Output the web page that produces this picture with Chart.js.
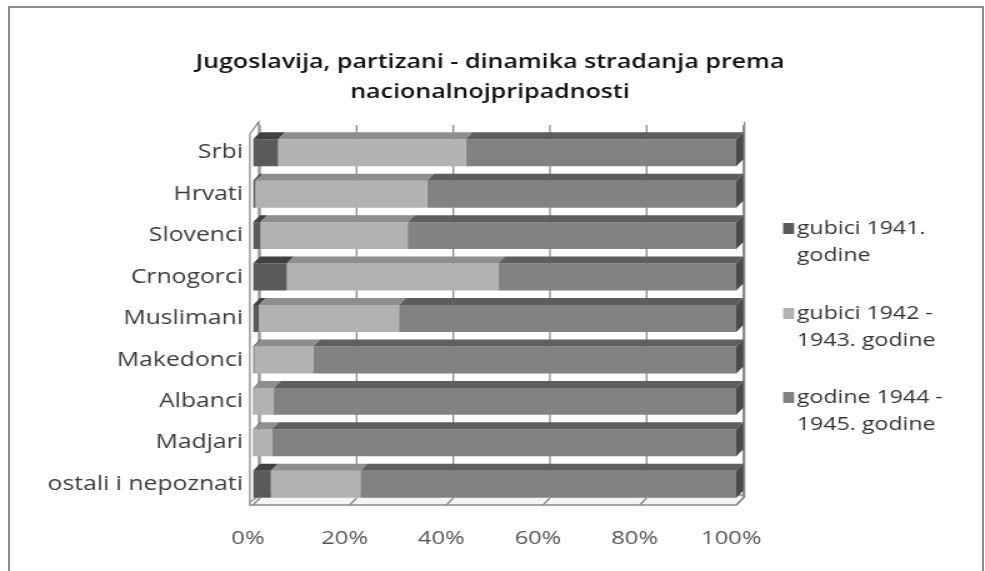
<!DOCTYPE html>
<html>
<head>
<meta charset="utf-8">
<script src="https://cdn.jsdelivr.net/npm/chart.js@4.4.1/dist/chart.umd.min.js"></script>
<style>
  body { margin: 0; background: #fff; }
  #wrap { position: relative; width: 985px; height: 571px; overflow: hidden; }
  #frame { position: absolute; left: 8px; top: 6px; width: 972px; height: 600px; border: 2px solid #8c8c8c; }
  /* the original picture is stretched sideways, so the chart is too */
  #stretch { position: absolute; left: 0; top: 0; width: 788px; height: 571px; transform: scaleX(1.25); transform-origin: 0 0; }
</style>
</head>
<body>
<div id="wrap">
  <div id="frame"></div>
  <div id="stretch"><canvas id="chart" width="788" height="571"></canvas></div>
</div>
<script>
const categories = ["Srbi", "Hrvati", "Slovenci", "Crnogorci", "Muslimani", "Makedonci", "Albanci", "Madjari", "ostali i nepoznati"];
const gubici1941 = [5.2, 0.5, 1.5, 7.0, 1.2, 0.3, 0.2, 0.2, 3.7];
const gubici1942_1943 = [38.8, 35.5, 30.5, 43.7, 29.0, 12.1, 4.1, 3.7, 18.5];
const godine1944_1945 = [56.0, 64.0, 68.0, 49.3, 69.8, 87.6, 95.7, 96.1, 77.8];
const seriesLabels = [["gubici 1941.", "godine"], ["gubici 1942 -", "1943. godine"], ["godine 1944 -", "1945. godine"]];
const titleLines = ["Jugoslavija, partizani - dinamika stradanja prema", "nacionalnojpripadnosti"];
const xTicks = [0, 20, 40, 60, 80, 100];

const FONT = "'Open Sans', sans-serif";
const DX = 5.6, DY = 7;
const topColors = ["#404040", "#8e8e8e", "#5e5e5e"];

// 3D look: back wall grid, left wall, floor, top faces and end caps
const depthPlugin = {
  id: "depth",
  beforeDatasetsDraw(chart) {
    const { ctx, chartArea: a, scales } = chart;
    const x = scales.x;
    ctx.save();
    ctx.strokeStyle = "#8a8a8a";
    ctx.lineWidth = 1.3;
    xTicks.forEach((t) => {
      const px = x.getPixelForValue(t) + DX;
      ctx.beginPath();
      ctx.moveTo(px, a.top - DY);
      ctx.lineTo(px, a.bottom - DY);
      ctx.stroke();
    });
    // left wall
    ctx.beginPath();
    ctx.moveTo(a.left - 2.5, a.bottom);
    ctx.lineTo(a.left - 2.5, a.top + 2);
    ctx.lineTo(a.left + DX - 1, a.top - DY - 3);
    ctx.lineTo(a.left + DX - 1, a.bottom - DY);
    ctx.stroke();
    // floor
    ctx.fillStyle = "#f4f4f4";
    ctx.beginPath();
    ctx.moveTo(a.left - 2.5, a.bottom);
    ctx.lineTo(a.right, a.bottom);
    ctx.lineTo(a.right + DX, a.bottom - DY);
    ctx.lineTo(a.right + DX, a.bottom - DY - 3);
    ctx.lineTo(a.left + DX, a.bottom - DY - 3);
    ctx.lineTo(a.left - 2.5, a.bottom - 3);
    ctx.closePath();
    ctx.fill();
    ctx.stroke();
    xTicks.forEach((t) => {
      const px = x.getPixelForValue(t);
      ctx.beginPath();
      ctx.moveTo(px, a.bottom);
      ctx.lineTo(px + DX, a.bottom - DY);
      ctx.stroke();
    });
    // right wall line
    ctx.beginPath();
    ctx.moveTo(a.right + DX + 1, a.top - DY - 3);
    ctx.lineTo(a.right + DX + 1, a.bottom - DY);
    ctx.stroke();
    ctx.restore();
  },
  afterDatasetsDraw(chart) {
    const { ctx } = chart;
    ctx.save();
    const n = chart.data.datasets.length;
    chart.data.datasets.forEach((ds, di) => {
      const meta = chart.getDatasetMeta(di);
      meta.data.forEach((bar) => {
        const p = bar.getProps(["x", "y", "base", "height"], true);
        const t = p.y - p.height / 2;
        const b = p.y + p.height / 2;
        const x0 = Math.min(p.base, p.x);
        const x1 = Math.max(p.base, p.x);
        ctx.fillStyle = topColors[di];
        ctx.beginPath();
        ctx.moveTo(x0, t);
        ctx.lineTo(x0 + DX, t - DY);
        ctx.lineTo(x1 + DX, t - DY);
        ctx.lineTo(x1, t);
        ctx.closePath();
        ctx.fill();
        if (di === n - 1) {
          ctx.fillStyle = "#4a4a4a";
          ctx.beginPath();
          ctx.moveTo(x1, t);
          ctx.lineTo(x1 + DX, t - DY);
          ctx.lineTo(x1 + DX, b - DY);
          ctx.lineTo(x1, b);
          ctx.closePath();
          ctx.fill();
        }
      });
    });
    ctx.restore();
  },
  afterDraw(chart) {
    const { ctx } = chart;
    ctx.save();
    ctx.textBaseline = "middle";
    // title
    ctx.font = "600 20px " + FONT;
    ctx.fillStyle = "#111";
    ctx.textAlign = "center";
    titleLines.forEach((line, k) => ctx.fillText(line, 392, 62 + k * 30));
    // legend with two-line entries
    ctx.textAlign = "left";
    ctx.font = "18.5px " + FONT;
    const ys = [229, 314, 398];
    chart.data.datasets.forEach((ds, i) => {
      ctx.fillStyle = ds.backgroundColor;
      ctx.fillRect(626.5, ys[i] - 6, 8.8, 11);
      ctx.fillStyle = "#333";
      seriesLabels[i].forEach((line, k) => {
        ctx.fillText(line, 637.5, ys[i] + k * 26.5);
      });
    });
    ctx.restore();
  },
};

new Chart(document.getElementById("chart"), {
  type: "bar",
  data: {
    labels: categories,
    datasets: [
      { label: "gubici 1941. godine", data: gubici1941, backgroundColor: "#5a5a5a" },
      { label: "gubici 1942 - 1943. godine", data: gubici1942_1943, backgroundColor: "#b2b2b2" },
      { label: "godine 1944 - 1945. godine", data: godine1944_1945, backgroundColor: "#828282" },
    ].map((d) => ({ ...d, borderWidth: 0, barPercentage: 0.65, categoryPercentage: 1 })),
  },
  options: {
    indexAxis: "y",
    responsive: false,
    animation: false,
    layout: { padding: { left: 0, right: 199, top: 132, bottom: 0 } },
    plugins: {
      legend: { display: false },
      tooltip: { enabled: false },
      title: { display: false },
    },
    scales: {
      x: {
        stacked: true,
        min: 0,
        max: 100,
        afterFit: (s) => { s.height = 66; },
        afterBuildTicks: (s) => { s.ticks = xTicks.map((v) => ({ value: v })); },
        grid: { display: false },
        border: { display: false },
        ticks: {
          padding: 14,
          labelOffset: -4,
          color: "#555",
          font: { family: FONT, size: 19 },
          callback: (v) => v + "%",
        },
      },
      y: {
        stacked: true,
        afterFit: (s) => { s.width = 202.4; },
        grid: { display: false },
        border: { display: false },
        ticks: {
          padding: 0,
          color: "#3a3a3a",
          font: { family: FONT, size: 19.8 },
        },
      },
    },
  },
  plugins: [depthPlugin],
});
</script>
</body>
</html>
